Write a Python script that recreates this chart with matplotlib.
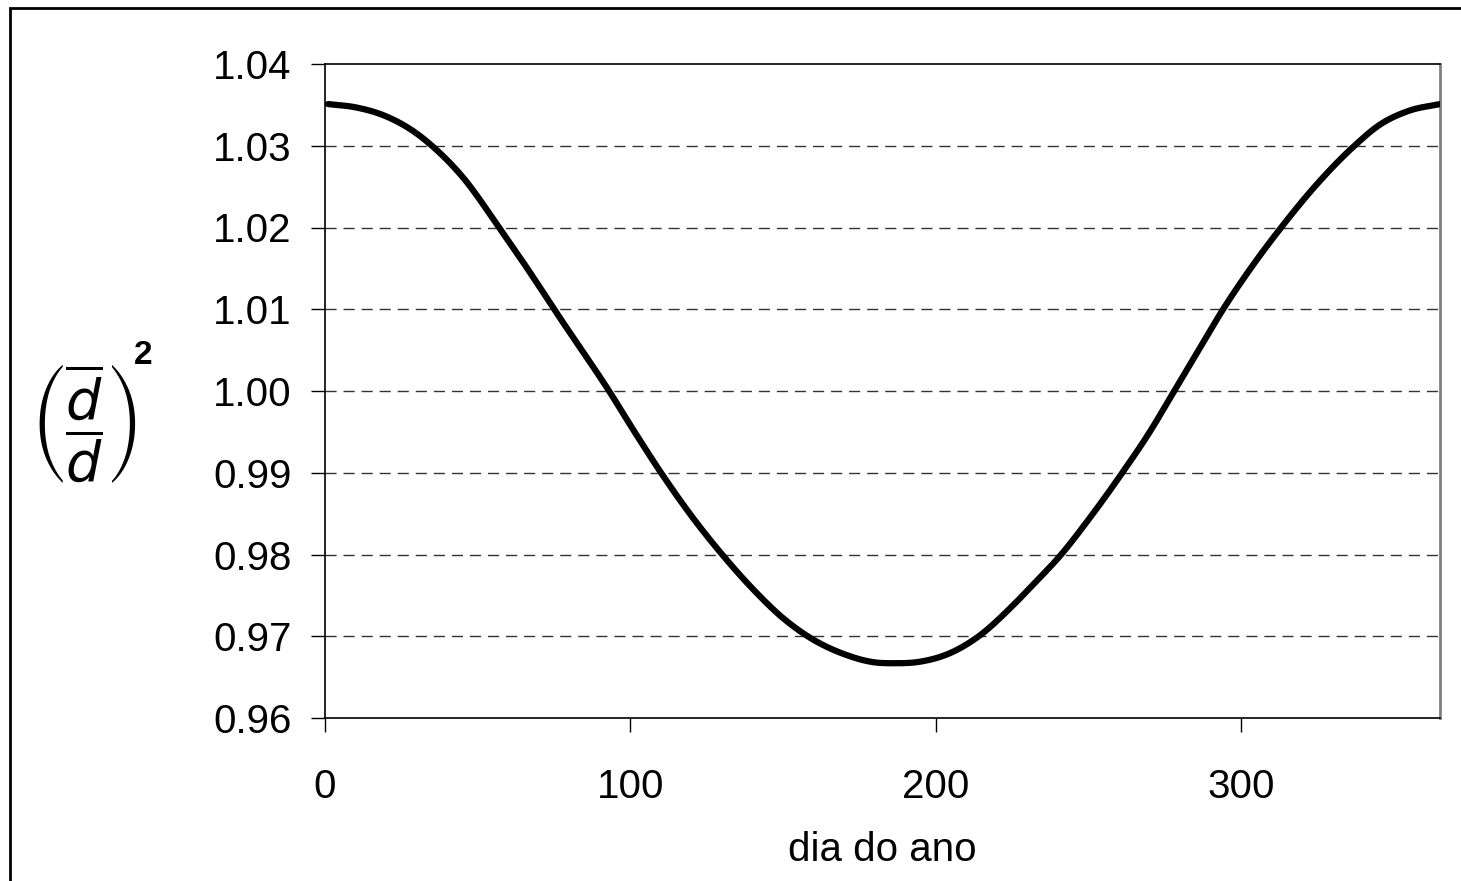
import numpy as np
import matplotlib
matplotlib.use("Agg")
import matplotlib.pyplot as plt
from matplotlib.patches import Rectangle

plt.rcParams['font.family'] = ['Liberation Sans', 'DejaVu Sans']
plt.rcParams['mathtext.fontset'] = 'dejavusans'

# values
dia = [1, 10, 20, 30, 35, 45, 57, 68, 75, 85, 93, 101, 110, 120, 130, 140,
       150, 158, 170, 180, 186, 195, 205, 214, 225, 232, 241, 250, 261, 270,
       278, 286, 294, 303, 313, 324, 337, 345, 355, 365]
fator = [1.0351, 1.0347, 1.0336, 1.0315, 1.0300, 1.0262, 1.0200, 1.0140,
         1.0100, 1.0045, 1.0000, 0.9952, 0.9900, 0.9847, 0.9800, 0.9758,
         0.9722, 0.9700, 0.9678, 0.9668, 0.9667, 0.9669, 0.9680, 0.9700,
         0.9737, 0.9764, 0.9800, 0.9843, 0.9900, 0.9950, 1.0000, 1.0050,
         1.0100, 1.0150, 1.0200, 1.0250, 1.0300, 1.0325, 1.0343, 1.0351]
xticks = [0, 100, 200, 300]
yticks = [0.96, 0.97, 0.98, 0.99, 1.00, 1.01, 1.02, 1.03, 1.04]

W, H = 1461, 881
fig = plt.figure(figsize=(W / 100, H / 100), dpi=100)
ax = fig.add_axes([325 / W, (H - 718) / H, 1115 / W, 654 / H])

# cubic hermite (catmull-rom) through the read points for a smooth line
x = np.array(dia, float)
y = np.array(fator, float)
m = np.gradient(y, x)
xs, ys = [], []
for i in range(len(x) - 1):
    h = x[i + 1] - x[i]
    t = np.linspace(0, 1, 30, endpoint=False)
    h00 = 2 * t**3 - 3 * t**2 + 1
    h10 = t**3 - 2 * t**2 + t
    h01 = -2 * t**3 + 3 * t**2
    h11 = t**3 - t**2
    xs.extend(x[i] + t * h)
    ys.extend(h00 * y[i] + h10 * h * m[i] + h01 * y[i + 1] + h11 * h * m[i + 1])
xs.append(x[-1])
ys.append(y[-1])
ax.plot(xs, ys, color='black', lw=4.5, solid_capstyle='round', zorder=3)

ax.set_xlim(0, 365)
ax.set_ylim(0.96, 1.04)
ax.set_xticks(xticks)
ax.set_yticks(yticks)
ax.set_yticklabels([f'{v:.2f}' for v in yticks])
ax.tick_params(direction='out', length=10, width=1, labelsize=29, color='black')
ax.tick_params(axis='y', pad=14)
ax.tick_params(axis='x', pad=26)

for v in yticks[1:-1]:
    ax.axhline(v, color='#333333', lw=1, dashes=(8, 5), zorder=1)

for s in ['left', 'bottom', 'top']:
    ax.spines[s].set_linewidth(1.2)
    ax.spines[s].set_color('black')
ax.spines['right'].set_color('#808080')
ax.spines['right'].set_linewidth(2)

ax.set_xlabel('dia do ano', fontsize=29, labelpad=18)

fig.text(84 / W, 1 - 424 / H,
         r'$\left(\dfrac{\overline{d}}{d}\right)$',
         fontsize=40, ha='center', va='center')
fig.text(143 / W, 1 - 356 / H, '2', fontsize=24, fontweight='bold',
         ha='center', va='center')

# outer frame of the chart area
fig.add_artist(Rectangle((10 / W, -0.1), 1.2, (H - 8) / H + 0.1,
                         transform=fig.transFigure, fill=False,
                         edgecolor='black', lw=2))

fig.savefig('out.png', dpi=100)
